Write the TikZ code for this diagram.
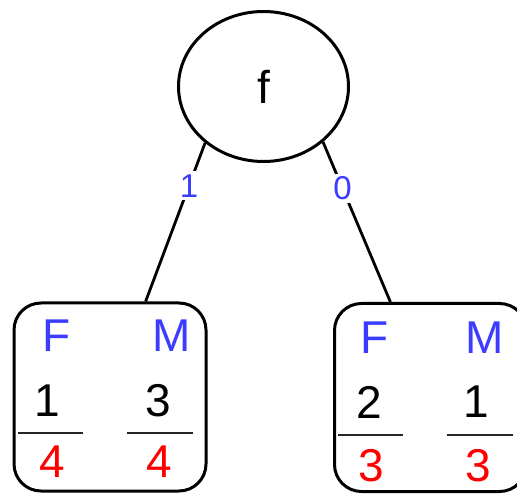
\documentclass[tikz,border=0pt]{standalone}
\usepackage{fontspec}
\setmainfont{Liberation Sans}
\usetikzlibrary{shapes.geometric}
\definecolor{bitblue}{RGB}{60,60,255}
\begin{document}
\begin{tikzpicture}[x=1pt, y=-1pt,
    bubble/.style={draw, ellipse, line width=3pt, minimum width=170pt, minimum height=150pt, font=\fontsize{46}{50}\selectfont},
    tally/.style={draw, rounded corners=27pt, line width=3pt, minimum width=192pt, minimum height=188pt},
    head/.style={text=bitblue, inner sep=0pt, font=\fontsize{46}{50}\selectfont},
    count/.style={inner sep=0pt, font=\fontsize{46}{50}\selectfont},
    total/.style={text=red, inner sep=0pt, font=\fontsize{46}{50}\selectfont},
    bit/.style={fill=white, text=bitblue, inner sep=3pt, font=\fontsize{33}{36}\selectfont},
    link/.style={line width=2.8pt},
    bar/.style={line width=1.6pt, draw=black!85}]
  \useasboundingbox (0,0) rectangle (517,494);
  \node[bubble] (f) at (263.5,86.5) {f};
  \node[tally] (left) at (110,397) {};
  \node[tally] (right) at (430.5,397.5) {};
  \draw[link] (f.224) -- (left) node[bit, pos=0.27] (leftbit) {1};
  \draw[link] (f.317) -- (right) node[bit, pos=0.29] (rightbit) {0};
  \node[head] (leftF) at (57,336) {F};
  \node[head] (leftM) at (172,336) {M};
  \node[count] (leftFn) at (47,401) {1};
  \node[count] (leftMn) at (158,401) {3};
  \draw[bar] (18,433) -- (83,433);
  \draw[bar] (127,433) -- (193,433);
  \node[total] (leftFd) at (52,462) {4};
  \node[total] (leftMd) at (159,462) {4};
  \node[head] (rightF) at (375,338) {F};
  \node[head] (rightM) at (485,338) {M};
  \node[count] (rightFn) at (369,402) {2};
  \node[count] (rightMn) at (476,402) {1};
  \draw[bar] (338,435) -- (403,435);
  \draw[bar] (447,435) -- (513,435);
  \node[total] (rightFd) at (371,466) {3};
  \node[total] (rightMd) at (478,466) {3};
\end{tikzpicture}
\end{document}
